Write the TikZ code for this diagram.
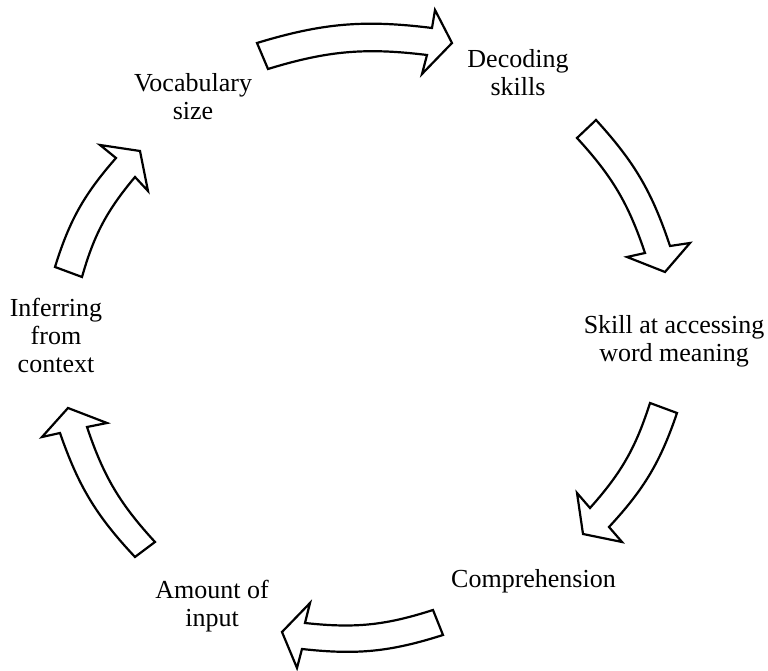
\documentclass[tikz,border=0pt]{standalone}
\usepackage{fontspec}
\setmainfont{Liberation Serif}
\begin{document}
\begin{tikzpicture}[x=1pt,y=1pt,
  blockarrow/.style={draw=black,fill=white,line width=2.2pt,line join=miter},
  lbl/.style={inner sep=0pt,align=center,font=\fontsize{26}{28}\selectfont}]
\useasboundingbox (0,0) rectangle (768,671);
% labels
\node[lbl] (vocab) at (193,570.6) {\strut Vocabulary\\\strut size};
\node[lbl] (decod) at (518,594.6) {\strut Decoding\\\strut skills};
\node[lbl] (skill) at (674,329.3) {\strut Skill at accessing\\\strut word meaning};
\node[lbl] (compr) at (533.5,88.6) {\strut Comprehension};
\node[lbl] (amoun) at (212,63.6) {\strut Amount of\\\strut input};
\node[lbl] (infer) at (56,331.6) {\strut Inferring\\\strut from\\\strut context};
% arrow 1: vocabulary -> decoding
\draw[blockarrow] (257,628) to[bend left=12] (432,643) -- (435,661) -- (452,628) -- (422,597) -- (427,616) to[bend right=12] (268,602) -- cycle;
% arrow 2: decoding -> skill
\draw[blockarrow] (596,551) to[bend left=12] (670,425) -- (690,428) -- (665,399) -- (627,414) -- (645,418) to[bend right=12] (577,533) -- cycle;
% arrow 3: skill -> comprehension
\draw[blockarrow] (677,258) to[bend left=12] (609,144) -- (622,129) -- (583,137) -- (577,178) -- (590,163) to[bend right=12] (650,268) -- cycle;
% arrow 4: comprehension -> amount
\draw[blockarrow] (443,36) to[bend left=12] (302,22) -- (297,3) -- (282,39) -- (310,68) -- (305,48) to[bend right=12] (433,61) -- cycle;
% arrow 5: amount -> inferring
\draw[blockarrow] (135,114) to[bend left=12] (60,238) -- (42,234) -- (68,263) -- (107,248) -- (87,244) to[bend right=12] (155,129) -- cycle;
% arrow 6: inferring -> vocabulary
\draw[blockarrow] (55,404) to[bend left=12] (116,513) -- (100,526) -- (140,520) -- (148,480) -- (135,494) to[bend right=12] (82,394) -- cycle;
\end{tikzpicture}
\end{document}
